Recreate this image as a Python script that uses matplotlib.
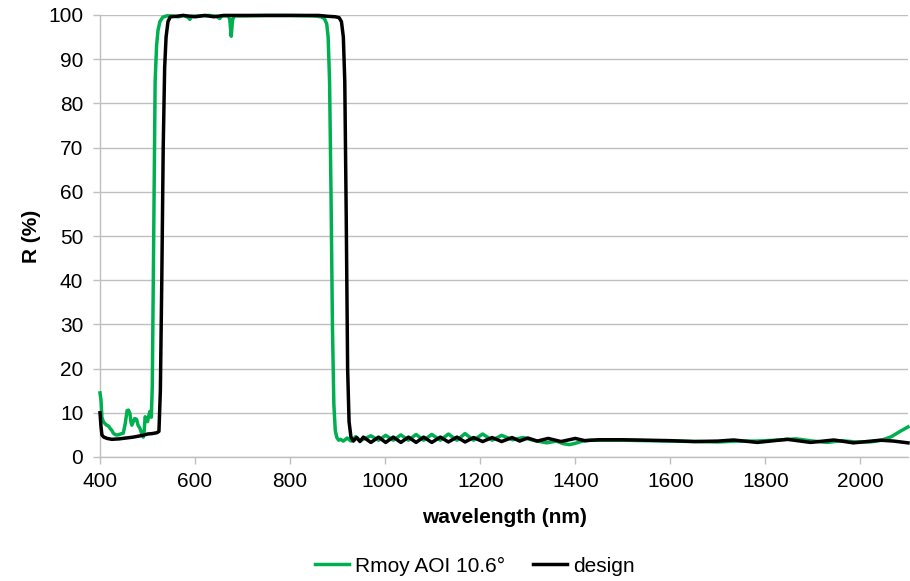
import matplotlib
matplotlib.use("Agg")
import matplotlib.pyplot as plt

plt.rcParams['font.family'] = ['Liberation Sans', 'DejaVu Sans']

# Measured reflectance (green)
wl_meas = [400, 402, 404, 407, 411, 414, 418, 421, 425, 428, 433, 438, 443, 449, 453, 457,
           460, 463, 465, 467, 470, 473, 477, 480, 484, 487, 491, 493, 495, 498, 500, 503,
           505, 508, 510, 513, 516, 519, 522, 526, 532, 540, 550, 565, 575, 585, 589, 593,
           610, 630, 645, 652, 656, 670, 673, 676, 679, 683, 700, 750, 800, 850, 865, 872,
           877, 880, 883, 886, 889, 892, 895, 898, 902, 906, 912, 920, 928, 938, 947, 970,
           986, 1001, 1017, 1033, 1049, 1065, 1081, 1098, 1116, 1133, 1151, 1168, 1186,
           1205, 1225, 1245, 1268, 1290, 1315, 1340, 1360, 1375, 1388, 1400, 1415, 1430,
           1500, 1550, 1600, 1650, 1700, 1740, 1780, 1820, 1865, 1900, 1930, 1960, 1990,
           2020, 2045, 2065, 2085, 2100]
R_meas = [14.5, 13.0, 9.0, 8.0, 7.5, 7.2, 7.0, 6.5, 6.0, 5.4, 5.0, 5.0, 5.2, 5.4, 7.5, 10.5,
          10.6, 9.8, 8.0, 7.2, 8.0, 8.7, 8.5, 7.2, 6.5, 5.5, 4.5, 6.0, 9.1, 8.5, 8.0, 9.5,
          10.3, 9.0, 16.0, 50.0, 85.0, 93.0, 96.5, 98.5, 99.5, 99.8, 99.8, 99.6, 99.9, 99.5, 99.0, 99.7,
          99.8, 99.9, 99.7, 99.2, 99.8, 99.8, 99.0, 95.2, 99.0, 99.8, 99.8, 99.9, 99.9, 99.8, 99.6, 99.2,
          98.0, 95.0, 85.0, 60.0, 30.0, 12.0, 6.0, 4.5, 3.8, 4.0, 3.6, 4.3, 3.6, 4.6, 3.7, 4.8,
          3.8, 4.9, 3.8, 5.0, 3.8, 5.1, 3.8, 5.1, 3.8, 5.2, 3.8, 5.3, 3.8,
          5.2, 3.8, 4.9, 3.9, 4.4, 3.7, 3.2, 3.6, 3.0, 2.8, 3.1, 3.6, 3.8,
          3.8, 3.7, 3.6, 3.5, 3.4, 3.6, 3.6, 3.8, 4.1, 3.6, 3.3, 3.7, 3.4,
          3.4, 3.8, 4.6, 5.9, 6.8]

# Design reflectance (black)
wl_design = [400, 402, 404, 408, 415, 425, 440, 455, 470, 480, 490, 500, 510, 520, 524, 527,
             530, 533, 536, 539, 543, 548, 560, 575, 600, 620, 640, 660, 700, 800, 860, 880,
             895, 903, 908, 912, 915, 918, 921, 924, 928, 933, 940, 947, 954, 970, 986, 1001,
             1017, 1033, 1049, 1065, 1081, 1098, 1116, 1133, 1151, 1168, 1186, 1205, 1225,
             1245, 1267, 1283, 1300, 1320, 1343, 1370, 1400, 1420, 1450, 1500, 1550, 1600,
             1650, 1700, 1733, 1783, 1846, 1895, 1944, 1985, 2042, 2070, 2100]
R_design = [10.0, 7.0, 5.0, 4.5, 4.2, 4.0, 4.1, 4.3, 4.5, 4.7, 4.9, 5.2, 5.3, 5.5, 5.8, 15.0,
            40.0, 70.0, 88.0, 95.0, 98.5, 99.6, 99.7, 99.9, 99.6, 99.9, 99.6, 99.9, 99.9, 99.9, 99.9, 99.7,
            99.6, 99.4, 98.5, 95.0, 85.0, 55.0, 20.0, 8.0, 4.5, 3.6, 4.4, 3.5, 4.5, 3.3, 4.5, 3.3,
            4.5, 3.3, 4.5, 3.3, 4.5, 3.3, 4.5, 3.4, 4.5, 3.4, 4.4, 3.5, 4.4,
            3.5, 4.4, 3.6, 4.3, 3.6, 4.2, 3.5, 4.2, 3.7, 3.9, 3.9, 3.8, 3.7,
            3.5, 3.6, 3.85, 3.3, 4.0, 3.3, 3.85, 3.2, 3.8, 3.6, 3.2]

x_ticks = [400, 600, 800, 1000, 1200, 1400, 1600, 1800, 2000]
y_ticks = [0, 10, 20, 30, 40, 50, 60, 70, 80, 90, 100]

fig = plt.figure(figsize=(9.1, 5.81), dpi=100)
ax = fig.add_axes([100 / 910, (581 - 457) / 581, 808 / 910, 442 / 581])

FS = 15
grid_c = '#BFBFBF'
ax.plot(wl_meas, R_meas, color='#00B050', lw=2.5, label='Rmoy AOI 10.6°',
        clip_on=False, zorder=3, solid_joinstyle='round')
ax.plot(wl_design, R_design, color='black', lw=2.5, label='design',
        clip_on=False, zorder=4, solid_joinstyle='round')

ax.set_xlim(400, 2100)
ax.set_ylim(0, 100)
ax.set_xticks(x_ticks)
ax.set_yticks(y_ticks)
ax.yaxis.grid(True, color=grid_c, lw=1)
ax.set_axisbelow(True)
for s in ['top', 'right']:
    ax.spines[s].set_visible(False)
for s in ['left', 'bottom']:
    ax.spines[s].set_color(grid_c)
    ax.spines[s].set_linewidth(1)
ax.tick_params(axis='both', colors=grid_c, length=5, width=1, labelsize=FS,
               labelcolor='black')
ax.tick_params(axis='x', pad=6)
ax.tick_params(axis='y', pad=7)

ax.set_xlabel('wavelength (nm)', fontsize=FS, fontweight='bold', labelpad=12)
ax.set_ylabel('R (%)', fontsize=FS, fontweight='bold', labelpad=5)

fig.legend(loc='center', bbox_to_anchor=(475 / 910, 1 - 566 / 581), ncol=2, frameon=False,
           fontsize=FS, handlelength=1.6, handletextpad=0.3, columnspacing=1.35)

fig.savefig('out.png', dpi=100)
